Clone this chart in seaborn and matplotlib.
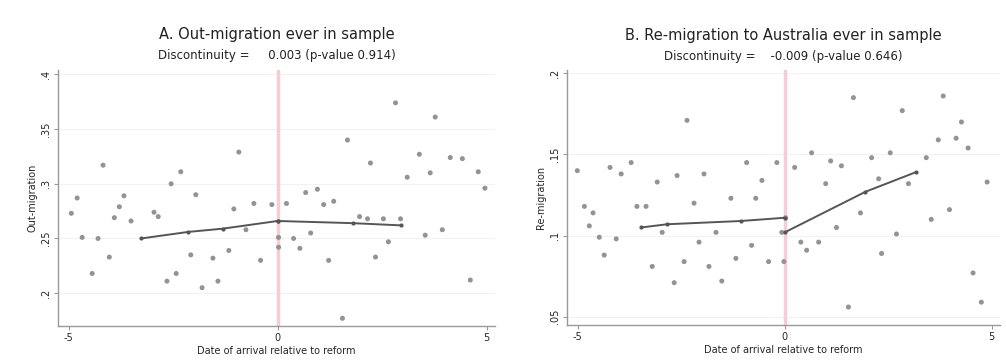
import matplotlib
matplotlib.use("Agg")
import matplotlib.pyplot as plt
import seaborn as sns
import pandas as pd

# Panel A: binned out-migration rates by arrival date (years relative to reform)
a_x = [-4.94, -4.80, -4.68, -4.44, -4.30, -4.18, -4.03, -3.91, -3.79, -3.68, -3.51,
       -2.96, -2.86, -2.65, -2.55, -2.43, -2.32, -2.08, -1.96, -1.81, -1.55, -1.43,
       -1.17, -1.05, -0.93, -0.76, -0.57, -0.41, -0.14, 0.02, 0.02, 0.21, 0.38, 0.53,
       0.67, 0.79, 0.95, 1.10, 1.22, 1.34, 1.55, 1.67, 1.96, 2.15, 2.22, 2.34, 2.53,
       2.65, 2.82, 2.94, 3.10, 3.39, 3.53, 3.65, 3.77, 3.94, 4.13, 4.42, 4.61, 4.80, 4.96]
a_y = [0.273, 0.287, 0.251, 0.218, 0.250, 0.317, 0.233, 0.269, 0.279, 0.289, 0.266,
       0.274, 0.270, 0.211, 0.300, 0.218, 0.311, 0.235, 0.290, 0.205, 0.232, 0.211,
       0.239, 0.277, 0.329, 0.258, 0.282, 0.230, 0.281, 0.251, 0.242, 0.282, 0.250, 0.241,
       0.292, 0.255, 0.295, 0.281, 0.230, 0.284, 0.177, 0.340, 0.270, 0.268, 0.319, 0.233, 0.268,
       0.247, 0.374, 0.268, 0.306, 0.327, 0.253, 0.310, 0.361, 0.258, 0.324, 0.323, 0.212, 0.311, 0.296]
a_fit_left_x = [-3.27, -2.14, -1.31, 0.0]
a_fit_left_y = [0.250, 0.256, 0.259, 0.266]
a_fit_right_x = [0.0, 1.80, 2.94]
a_fit_right_y = [0.266, 0.264, 0.262]

# Panel B: binned re-migration rates
b_x = [-5.01, -4.84, -4.72, -4.63, -4.48, -4.36, -4.22, -4.07, -3.95, -3.71, -3.57,
       -3.35, -3.20, -3.08, -2.96, -2.67, -2.60, -2.43, -2.36, -2.19, -2.07, -1.95,
       -1.83, -1.66, -1.52, -1.30, -1.18, -0.92, -0.80, -0.70, -0.55, -0.39, -0.19,
       -0.07, -0.02, 0.02, 0.24, 0.39, 0.53, 0.65, 0.82, 0.99, 1.11, 1.25, 1.37, 1.54,
       1.66, 1.83, 2.10, 2.27, 2.34, 2.55, 2.70, 2.84, 2.99, 3.42, 3.54, 3.71, 3.83,
       3.98, 4.14, 4.27, 4.43, 4.55, 4.75, 4.89]
b_y = [0.140, 0.118, 0.106, 0.114, 0.099, 0.088, 0.142, 0.098, 0.138, 0.145, 0.118,
       0.118, 0.081, 0.133, 0.102, 0.071, 0.137, 0.084, 0.171, 0.120, 0.096, 0.138,
       0.081, 0.102, 0.072, 0.123, 0.086, 0.145, 0.094, 0.123, 0.134, 0.084, 0.145,
       0.102, 0.084, 0.111, 0.142, 0.096, 0.091, 0.151, 0.096, 0.132, 0.146, 0.105, 0.143, 0.056,
       0.185, 0.114, 0.148, 0.135, 0.089, 0.151, 0.101, 0.177, 0.132, 0.148, 0.110, 0.159, 0.186,
       0.116, 0.160, 0.170, 0.154, 0.077, 0.059, 0.133]
b_fit_left_x = [-3.47, -2.84, -1.06, 0.0]
b_fit_left_y = [0.105, 0.107, 0.109, 0.111]
b_fit_right_x = [0.0, 1.95, 3.16]
b_fit_right_y = [0.102, 0.127, 0.139]

titles = ["A. Out-migration ever in sample", "B. Re-migration to Australia ever in sample"]
subtitles = ["Discontinuity =     0.003 (p-value 0.914)",
             "Discontinuity =    -0.009 (p-value 0.646)"]
ylabels = ["Out-migration", "Re-migration"]
a_yticks = [0.2, 0.25, 0.3, 0.35, 0.4]
a_yticklabels = [".2", ".25", ".3", ".35", ".4"]
b_yticks = [0.05, 0.1, 0.15, 0.2]
b_yticklabels = [".05", ".1", ".15", ".2"]
xticks = [-5, 0, 5]

sns.set_theme(style="white")
plt.rcParams['font.family'] = ['DejaVu Sans']

fig = plt.figure(figsize=(10.06, 3.61), dpi=100)
ax_a = fig.add_axes([0.058, 0.097, 0.434, 0.709])
ax_b = fig.add_axes([0.564, 0.100, 0.430, 0.706])

panels = [
    (ax_a, a_x, a_y, a_fit_left_x, a_fit_left_y, a_fit_right_x, a_fit_right_y,
     (0.170, 0.404), a_yticks, a_yticklabels),
    (ax_b, b_x, b_y, b_fit_left_x, b_fit_left_y, b_fit_right_x, b_fit_right_y,
     (0.045, 0.202), b_yticks, b_yticklabels),
]

for i, (ax, px, py, flx, fly, frx, fry, ylim, yt, ytl) in enumerate(panels):
    df = pd.DataFrame({"x": px, "y": py})
    for yv in yt:
        ax.axhline(yv, color="#f2f2f2", lw=0.8, zorder=0)
    ax.axvline(0, color="#f7ccd7", lw=2.5, zorder=1)
    sns.scatterplot(data=df, x="x", y="y", ax=ax, s=13, color="#939393",
                    edgecolor="none", zorder=2)
    left = pd.DataFrame({"x": flx, "y": fly})
    right = pd.DataFrame({"x": frx, "y": fry})
    for part in (left, right):
        sns.lineplot(data=part, x="x", y="y", ax=ax, color="#555555", lw=1.4,
                     marker="o", markersize=3, markeredgewidth=0, zorder=3)
    ax.set_xlim(-5.25, 5.2)
    ax.set_ylim(*ylim)
    ax.set_xticks(xticks)
    ax.set_xticklabels([str(t) for t in xticks], fontsize=7)
    ax.set_yticks(yt)
    ax.set_yticklabels(ytl, fontsize=7, rotation=90, va="center")
    ax.set_xlabel("Date of arrival relative to reform", fontsize=7, labelpad=2)
    ax.set_ylabel(ylabels[i], fontsize=7, labelpad=3)
    for s in ("top", "right"):
        ax.spines[s].set_visible(False)
    for s in ("left", "bottom"):
        ax.spines[s].set_color("#999999")
        ax.spines[s].set_linewidth(1.0)
    ax.tick_params(axis="both", which="both", direction="out", length=3,
                   width=0.8, color="#999999", pad=2, bottom=True, left=True)
    ax.set_facecolor("white")
    ax.text(0.5, 1.137, titles[i], transform=ax.transAxes, ha="center",
            va="center", fontsize=10.5, color="#222222")
    ax.text(0.5, 1.055, subtitles[i], transform=ax.transAxes, ha="center",
            va="center", fontsize=8.5, color="#222222")

fig.savefig("out.png", dpi=100)
